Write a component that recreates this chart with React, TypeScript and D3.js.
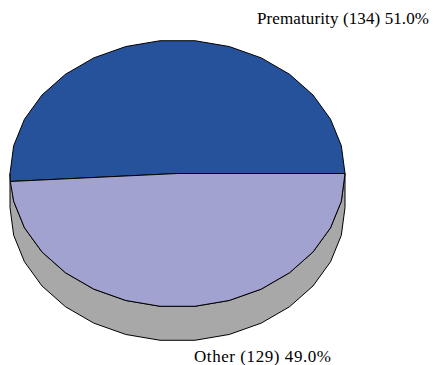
import React from "react";
import * as d3 from "d3";

const categories: string[] = ["Prematurity", "Other"];
const counts: number[] = [134, 129];
const colors: string[] = ["#26519b", "#a1a2cf"];

const W = 434;
const H = 365;
const cx = 177.5;
const cy = 173.5;
const rx = 167.5;
const ry = 133.5;
const depth = 34;
const stepDeg = 12;

const pt = (deg: number, dy = 0): [number, number] => {
  const r = (deg * Math.PI) / 180;
  return [cx + rx * Math.cos(r), cy - ry * Math.sin(r) + dy];
};

// angles along an arc: the endpoints plus every 12° facet in between
const arcAngles = (a0: number, a1: number): number[] => {
  const out = [a0];
  let k = Math.floor(a0 / stepDeg + 1e-9) + 1;
  while (k * stepDeg < a1 - 1e-6) {
    out.push(k * stepDeg);
    k++;
  }
  out.push(a1);
  return out;
};

const toDeg = (r: number) => (r * 180) / Math.PI;

export default function App() {
  const total = d3.sum(counts);
  const pie = d3
    .pie<number>()
    .sort(null)
    .startAngle(0)
    .endAngle(2 * Math.PI)(counts);

  const line = d3.line();

  // front wall of the disc (visible lower half)
  const wall = arcAngles(180, 360);
  const sideTop = wall.map((a) => pt(a));
  const sideBottom = wall
    .slice()
    .reverse()
    .map((a) => pt(a, depth));
  const sidePath = line([...sideTop, ...sideBottom]) + "Z";

  const slices = pie.map((p, i) => {
    const pts = arcAngles(toDeg(p.startAngle), toDeg(p.endAngle)).map((a) => pt(a));
    return {
      d: line([[cx, cy], ...pts]) + "Z",
      fill: colors[i],
    };
  });

  const pct = (v: number) => ((v / total) * 100).toFixed(1) + "%";

  return (
    <svg
      width={W}
      height={H}
      style={{ position: "absolute", left: 0, top: 0, background: "#fff" }}
      fontFamily="'Liberation Serif', 'Times New Roman', serif"
    >
      <path d={sidePath} fill="#a8a8a8" stroke="#000" strokeWidth={1} strokeLinejoin="round" />
      {slices.map((s, i) => (
        <path key={i} d={s.d} fill={s.fill} stroke="#000" strokeWidth={1} strokeLinejoin="round" />
      ))}
      <text x={257} y={24} fontSize={17} fill="#000" textLength={172} lengthAdjust="spacing">
        {`${categories[0]} (${counts[0]}) ${pct(counts[0])}`}
      </text>
      <text x={194} y={362} fontSize={17} fill="#000" textLength={137} lengthAdjust="spacing">
        {`${categories[1]} (${counts[1]}) ${pct(counts[1])}`}
      </text>
    </svg>
  );
}
